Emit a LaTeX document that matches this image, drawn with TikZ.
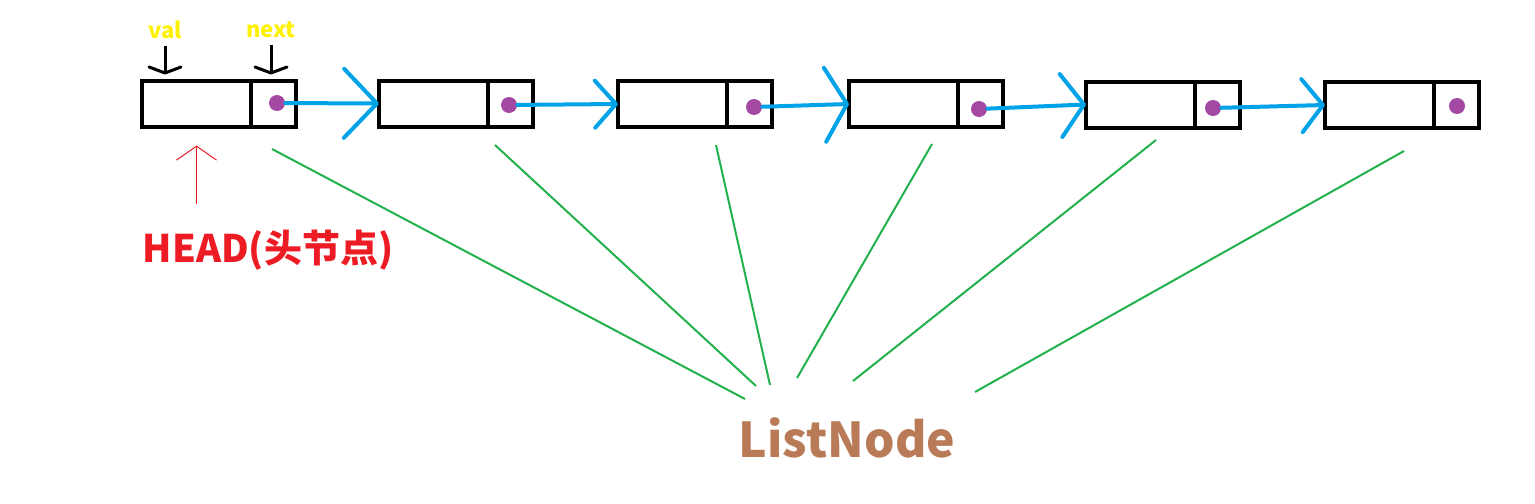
\documentclass[tikz,border=0pt]{standalone}
\usepackage{fontspec}
\setmainfont{Noto Sans CJK SC}
\usepackage{xcolor}
\usepackage{tikz}
\usetikzlibrary{arrows.meta,positioning}

\definecolor{ptrblue}{HTML}{00A2E8}
\definecolor{dotpurple}{HTML}{A349A4}
\definecolor{linkgreen}{HTML}{22B14C}
\definecolor{headred}{HTML}{ED1C24}
\definecolor{fieldyellow}{HTML}{FFF200}
\definecolor{typebrown}{HTML}{B97A57}

\begin{document}
\begin{tikzpicture}[
    x = 0.5pt, y = -0.5pt,
    cell/.style = {rectangle, draw, line width=2pt, minimum height=23pt, inner sep=0pt, outer sep=0pt},
    valcell/.style = {cell, minimum width=54.5pt},
    nextcell/.style = {cell, minimum width=22.5pt},
    ptrdot/.style = {circle, fill=dotpurple, minimum size=8pt, inner sep=0pt},
    ptr/.style 2 args = {draw=ptrblue, line width=2pt, line cap=round, -{Straight Barb[round, length=#1, width=#2]}},
    field/.style = {text=fieldyellow, font=\bfseries\fontsize{11pt}{13pt}\selectfont},
    fieldline/.style = {draw, line width=1.5pt, shorten >=3pt, -{Straight Barb[round, length=3pt, width=16pt]}},
    headlbl/.style = {text=headred, font=\bfseries\fontsize{19pt}{23pt}\selectfont},
    headline/.style = {draw=headred, line width=0.5pt, shorten <=9pt, shorten >=9.5pt, -{Straight Barb[length=7pt, width=20pt]}},
    typelbl/.style = {text=typebrown, font=\bfseries\fontsize{24pt}{29pt}\selectfont},
    member/.style = {draw=linkgreen, line width=1pt}
]
\path[use as bounding box, fill=white] (0,0) rectangle (1535,503);

% list cells
\node[valcell] (v1) at (196.5,103.5) {};
\node[nextcell, right=0pt of v1] (n1) {};
\node[valcell] (v2) at (433.5,103.5) {};
\node[nextcell, right=0pt of v2] (n2) {};
\node[valcell] (v3) at (672.5,104) {};
\node[nextcell, right=0pt of v3] (n3) {};
\node[valcell] (v4) at (903.5,104) {};
\node[nextcell, right=0pt of v4] (n4) {};
\node[valcell] (v5) at (1140.5,104.5) {};
\node[nextcell, right=0pt of v5] (n5) {};
\node[valcell] (v6) at (1379.5,105) {};
\node[nextcell, right=0pt of v6] (n6) {};

% next pointers
\node[ptrdot] (d1) at (277,103) {};
\node[ptrdot] (d2) at (509,105) {};
\node[ptrdot] (d3) at (754,107) {};
\node[ptrdot] (d4) at (979,109) {};
\node[ptrdot] (d5) at (1213,108) {};
\node[ptrdot] (d6) at (1457,106) {};

\path[ptr={16.5pt}{34.5pt}] (d1) -- (v2.west);
\path[ptr={10.5pt}{23.5pt}] (d2) -- (v3.west);
\path[ptr={11pt}{37pt}] (d3) -- (v4.west);
\path[ptr={11.5pt}{31.5pt}] (d4) -- (v5.west);
\path[ptr={10.5pt}{26.5pt}] (d5) -- (v6.west);

% field names
\node[field] (vallbl) at (165,30) {val};
\node[field] (nextlbl) at (271,30) {next};
\path[fieldline] (vallbl) -- (vallbl |- v1.north);
\path[fieldline] (nextlbl) -- (nextlbl |- n1.north);

% head
\node[headlbl, anchor=base] (head) at (268,262) {HEAD(头节点)};
\path[headline] (v1.south |- head.north) -- (v1.south);

% ListNode
\node[typelbl, anchor=base] (listnode) at (847,457) {ListNode};
\coordinate (m1) at (272,149);  \coordinate (e1) at (745,399);
\coordinate (m2) at (495,145);  \coordinate (e2) at (756,386);
\coordinate (m3) at (716,145);  \coordinate (e3) at (770,385);
\coordinate (m4) at (932,144);  \coordinate (e4) at (797,378);
\coordinate (m5) at (1156,140); \coordinate (e5) at (853,381);
\coordinate (m6) at (1404,151); \coordinate (e6) at (975,392);
\path[member] (m1) -- (e1);
\path[member] (m2) -- (e2);
\path[member] (m3) -- (e3);
\path[member] (m4) -- (e4);
\path[member] (m5) -- (e5);
\path[member] (m6) -- (e6);
\end{tikzpicture}
\end{document}
